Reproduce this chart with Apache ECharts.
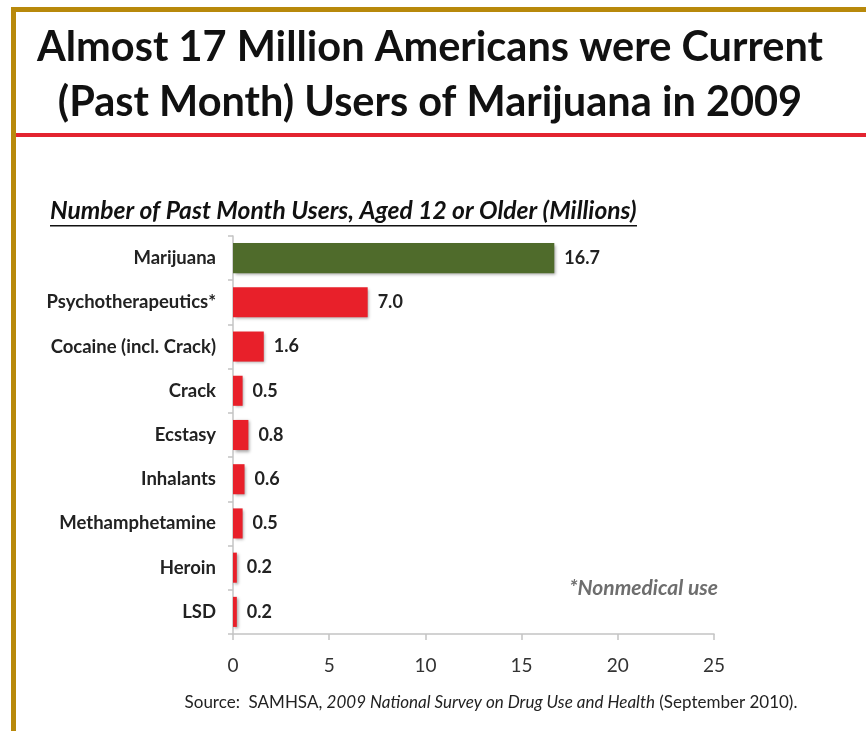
<!DOCTYPE html>
<html>
<head>
<meta charset="utf-8">
<script src="https://cdn.jsdelivr.net/npm/echarts@6/dist/echarts.min.js"></script>
<style>
  html, body { margin: 0; padding: 0; background: #ffffff; }
  #chart { width: 866px; height: 731px; }
</style>
</head>
<body>
<div id="chart"></div>
<script>
// Past-month users aged 12+, millions (NSDUH 2009)
const drugs = ['Marijuana', 'Psychotherapeutics*', 'Cocaine (incl. Crack)', 'Crack', 'Ecstasy',
               'Inhalants', 'Methamphetamine', 'Heroin', 'LSD'];
const users = [16.7, 7.0, 1.6, 0.5, 0.8, 0.6, 0.5, 0.2, 0.2];
const xTicks = [0, 5, 10, 15, 20, 25];

const GREEN = '#4f6b2b';
const RED = '#e8202a';
const GOLD = '#b8890b';
const FONT = 'Lato, "Open Sans", sans-serif';

const chart = echarts.init(document.getElementById('chart'), null, { renderer: 'canvas' });

chart.setOption({
  backgroundColor: '#ffffff',
  animation: false,
  grid: { left: 233, right: 152, top: 236, bottom: 97, containLabel: false },
  xAxis: {
    type: 'value',
    min: xTicks[0],
    max: xTicks[xTicks.length - 1],
    interval: xTicks[1] - xTicks[0],
    splitLine: { show: false },
    axisLine: { show: true, lineStyle: { color: '#c4c4c4', width: 1.5 } },
    axisTick: { show: true, length: 6, lineStyle: { color: '#c4c4c4', width: 1.5 } },
    axisLabel: { margin: 22, color: '#333333', fontSize: 19, fontFamily: FONT }
  },
  yAxis: {
    type: 'category',
    data: drugs,
    inverse: true,
    axisLine: { show: true, lineStyle: { color: '#c4c4c4', width: 1.5 } },
    axisTick: { show: true, length: 5, lineStyle: { color: '#c4c4c4', width: 1.5 } },
    axisLabel: { margin: 17, color: '#222222', fontSize: 18.5, fontWeight: 'bold', fontFamily: FONT }
  },
  series: [{
    type: 'bar',
    data: users.map((v, i) => ({
      value: v,
      itemStyle: { color: i === 0 ? GREEN : RED }
    })),
    barCategoryGap: '32%',
    itemStyle: {
      shadowColor: 'rgba(0,0,0,0.35)',
      shadowBlur: 3,
      shadowOffsetX: 1.5,
      shadowOffsetY: 1.5
    },
    label: {
      show: true,
      position: 'right',
      distance: 10,
      color: '#222222',
      fontSize: 18,
      fontWeight: 'bold',
      fontFamily: FONT,
      formatter: p => p.value.toFixed(1)
    }
  }],
  graphic: [
    // gold frame (top and left edges)
    { type: 'rect', shape: { x: 11, y: 7, width: 855, height: 5 }, style: { fill: GOLD }, z: 10 },
    { type: 'rect', shape: { x: 11, y: 7, width: 5, height: 724 }, style: { fill: GOLD }, z: 10 },
    // red rule under the headline
    { type: 'rect', shape: { x: 16, y: 133, width: 850, height: 4 }, style: { fill: '#e32430' }, z: 10 },
    // headline
    {
      type: 'text', x: 430, y: 20, z: 10,
      style: {
        text: 'Almost 17 Million Americans were Current\n(Past Month) Users of Marijuana in 2009',
        fill: '#111111', font: 'bold 41.5px ' + FONT,
        align: 'center', lineHeight: 55
      }
    },
    // chart subtitle with underline
    {
      type: 'text', x: 50, y: 211, z: 10,
      style: {
        text: 'Number of Past Month Users, Aged 12 or Older (Millions)',
        fill: '#111111', font: 'italic bold 24.6px ' + FONT,
        textVerticalAlign: 'middle'
      }
    },
    { type: 'rect', shape: { x: 50, y: 225, width: 587, height: 1.5 }, style: { fill: '#111111' }, z: 10 },
    // footnote
    {
      type: 'text', x: 718, y: 588, z: 10,
      style: {
        text: '*Nonmedical use',
        fill: '#6e6e6e', font: 'italic bold 21px ' + FONT,
        align: 'right', textVerticalAlign: 'middle'
      }
    },
    // source line
    {
      type: 'text', x: 491, y: 703, z: 10,
      style: {
        text: '{n|Source:  SAMHSA, }{i|2009 National Survey on Drug Use and Health}{n| (September 2010).}',
        align: 'center', verticalAlign: 'middle',
        rich: {
          n: { fill: '#222222', font: '17px ' + FONT },
          i: { fill: '#222222', font: 'italic 17px ' + FONT }
        }
      }
    }
  ]
});
</script>
</body>
</html>
